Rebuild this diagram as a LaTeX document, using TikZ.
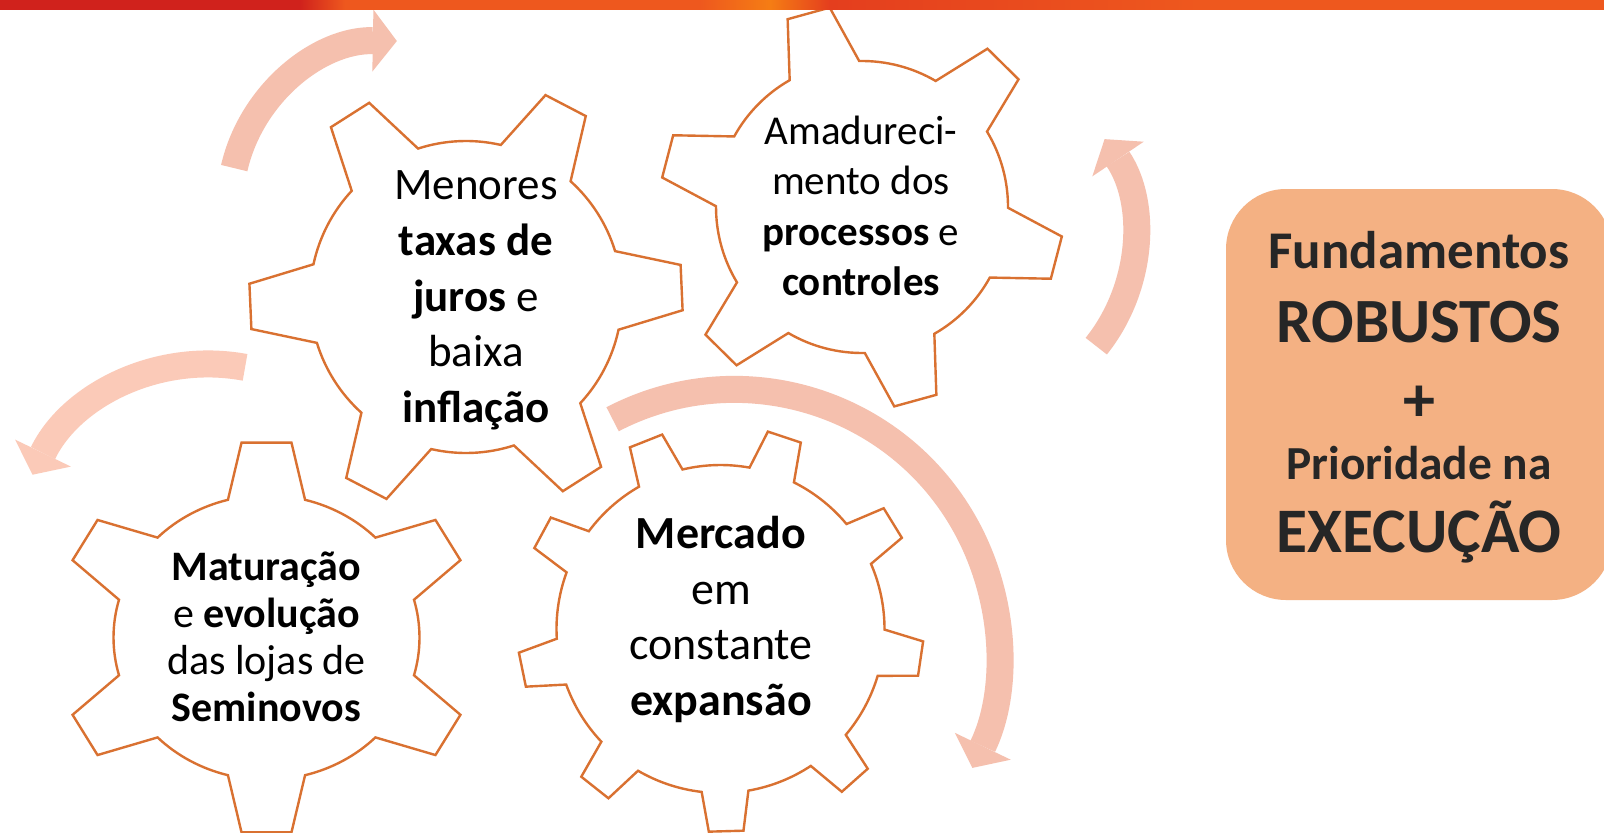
\documentclass[tikz,border=0pt]{standalone}
\usepackage{fontspec}
\setmainfont{Carlito}
\usetikzlibrary{arrows.meta,calc,positioning}

\definecolor{gearline}{RGB}{217,113,49}
\definecolor{arrowpink}{RGB}{245,192,174}
\definecolor{arrowpale}{RGB}{251,202,184}
\definecolor{boxfill}{RGB}{244,177,131}
\definecolor{boxtext}{RGB}{38,38,38}
\definecolor{barred}{RGB}{208,34,28}
\definecolor{barorange}{RGB}{238,88,30}
\definecolor{barlight}{RGB}{245,125,20}
\definecolor{barmid}{RGB}{228,62,30}

\tikzset{
  gearshape/.style={draw=gearline, line width=1.2pt, fill=white},
  geartext/.style={align=center, inner sep=0pt, text=black},
  flowarrow/.style={draw=arrowpink, line width=13.5pt,
    -{Triangle[width=31pt,length=12pt,line width=0pt]}},
  fundbox/.style={fill=boxfill, rounded corners=30pt, minimum width=193pt,
    minimum height=205.5pt, inner sep=0pt},
  fundtext/.style={text=boxtext, anchor=base, inner sep=0pt}
}

% #1 placement, #2 teeth, #3 turn, #4 outer radius, #5 root radius, #6 half tip, #7 half base
\newcommand{\gear}[7]{%
  \draw[gearshape,#1] ({#3-#7}:#5)
    \foreach \k [evaluate=\k as \ang using {#3+(\k-1)*360/#2}] in {1,...,#2}{
      -- ({\ang-#6}:#4) -- ({\ang+#6}:#4) -- ({\ang+#7}:#5)
      arc[start angle=\ang+#7, end angle=\ang+360/#2-#7, radius=#5]
    } -- cycle;}

\begin{document}
\begin{tikzpicture}[x=0.5pt,y=0.5pt,>=Latex]
  \useasboundingbox (0,0) rectangle (1604,832);
  \clip (0,0) rectangle (1604,832);
  \fill[white] (0,0) rectangle (1604,832);

  % curved arrows
  \coordinate (hubA) at (394,627);
  \coordinate (hubB) at (209,272);
  \coordinate (hubC) at (959.5,595);
  \coordinate (hubD) at (734.5,178.6);
  \draw[flowarrow] ($(hubA)+(167:164)$) arc[start angle=167, end angle=89, radius=164];
  \draw[flowarrow, draw=arrowpale] ($(hubB)+(79.4:196)$) arc[start angle=79.4, end angle=154.2, radius=196];
  \draw[flowarrow] ($(hubC)+(-38.6:175)$) arc[start angle=-38.6, end angle=34, radius=175];
  \draw[flowarrow] ($(hubD)+(117.5:264)$) arc[start angle=117.5, end angle=-25.7, radius=264];

  % gears
  \gear{shift={(466,535)}}{6}{2.5}{217}{156}{6}{14.6}
  \gear{shift={(862,625)}}{6}{-14.6}{202}{146}{6.2}{14.3}
  \gear{shift={(266.5,194.5)},yscale=0.93}{6}{30}{211}{153}{6.8}{14.6}
  \gear{shift={(720.5,203)}}{9}{-8.4}{203}{164}{4.9}{8.2}

  \node[geartext, font=\fontsize{22.5}{27.8}\selectfont] (rates) at (476,531.5)
    {Menores\\\textbf{taxas de}\\\textbf{juros} e\\baixa\\\textbf{inflação}};
  \node[geartext, font=\fontsize{20.5}{25.2}\selectfont] (processes) at (861,626)
    {Amadureci-\\mento dos\\\textbf{processos} e\\\textbf{controles}};
  \node[geartext, font=\fontsize{21}{23.4}\selectfont] (maturity) at (266.5,195)
    {\textbf{Maturação}\\e \textbf{evolução}\\das lojas de\\\textbf{Seminovos}};
  \node[geartext, font=\fontsize{23}{27.9}\selectfont] (market) at (721,212.5)
    {\textbf{Mercado}\\em\\constante\\\textbf{expansão}};

  % summary box
  \node[fundbox] (fund) at (1419,437.5) {};
  \node[fundtext, font=\fontsize{26.5}{30}\selectfont\bfseries] (fundA) at (1419,564) {Fundamentos};
  \node[fundtext, font=\fontsize{31.5}{36}\selectfont\bfseries] (fundB) at (1419,490) {ROBUSTOS};
  \node[fundtext, font=\fontsize{32}{36}\selectfont\bfseries] (fundC) at (1419,411) {+};
  \node[fundtext, font=\fontsize{23.7}{28}\selectfont\bfseries] (fundD) at (1419,353) {Prioridade na};
  \node[fundtext, font=\fontsize{31.7}{36}\selectfont\bfseries] (fundE) at (1419,280) {EXECUÇÃO};

  % top bar
  \fill[barred] (0,822) rectangle (300,832);
  \shade[left color=barred, right color=barorange] (300,822) rectangle (345,832);
  \fill[barorange] (345,822) rectangle (1604,832);
  \shade[left color=barorange, right color=barlight] (700,822) rectangle (770,832);
  \shade[left color=barlight, right color=barmid] (770,822) rectangle (830,832);
  \shade[left color=barmid, right color=barorange] (830,822) rectangle (1200,832);
\end{tikzpicture}
\end{document}
